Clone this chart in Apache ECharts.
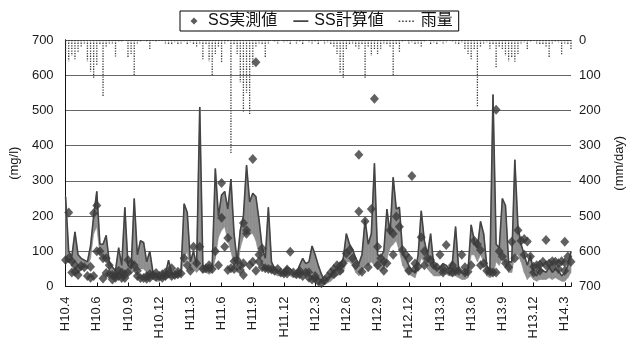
<!DOCTYPE html>
<html><head><meta charset="utf-8">
<script src="https://cdn.jsdelivr.net/npm/echarts@6/dist/echarts.min.js"></script>
<style>html,body{margin:0;padding:0;background:#fff}#c{width:634px;height:343px}</style>
</head><body><div id="c"></div>
<script>
const tickLabels = ['H10.4','H10.6','H10.9','H10.12','H11.3','H11.6','H11.9','H11.12','H12.3','H12.6','H12.9','H12.12','H13.3','H13.6','H13.9','H13.12','H14.3'];
const seriesNames = ['SS実測値','SS計算値','雨量'];

// SS calculated (mg/l): upper edge of the plotted band, index 0..162 (~9 days each)
const ssCalc = [255,100,85,155,90,80,75,70,115,200,
 270,120,120,145,70,55,45,110,60,225,
 60,50,250,90,130,125,70,100,40,30,
 25,30,35,75,40,35,40,45,235,210,
 70,100,60,510,60,55,50,60,335,200,
 260,270,220,305,150,70,160,200,345,240,
 265,255,190,110,80,225,70,50,45,40,
 45,55,50,40,35,60,80,65,70,115,
 90,60,35,15,25,30,45,50,60,80,
 150,120,105,80,65,90,190,120,150,350,
 90,85,100,220,150,310,220,225,100,80,
 60,45,40,90,215,130,90,150,60,50,
 55,65,60,50,70,170,50,40,35,45,
 175,130,110,185,150,60,45,545,120,110,
 250,230,70,70,360,170,120,90,60,90,
 40,30,50,45,40,55,40,50,45,30,
 40,60,100];

// SS calculated: lower edge of the daily-oscillation band
const ssCalcLow = [70,70,65,70,60,55,55,50,80,150,
 170,90,80,80,45,35,30,35,35,40,
 40,35,45,45,50,50,40,30,20,15,
 15,20,20,25,25,25,25,30,80,100,
 45,50,40,50,40,40,35,40,80,140,
 160,170,130,100,60,40,110,140,150,150,
 150,130,90,60,45,45,40,35,30,30,
 30,35,30,25,25,35,40,35,35,40,
 30,20,10,5,10,15,25,30,35,40,
 70,70,60,40,30,40,60,60,70,60,
 50,45,50,80,110,120,130,100,60,45,
 35,30,25,50,80,70,50,40,30,30,
 30,35,35,30,30,30,25,20,20,25,
 90,90,70,90,70,30,25,30,70,60,
 80,60,40,40,90,90,70,40,20,30,
 20,15,20,20,20,25,20,25,20,15,
 15,25,40];

// SS measured (index, mg/l)
const ssMeasured = [[0,75],[1,210],[1,80],[2,72],[2,40],[3,42],[3,60],[4,33],[4,50],[5,58],[6,55],[7,30],[8,25],[8,56],[9,208],[9,30],[10,230],[10,100],[11,100],[12,23],[12,80],[13,80],[13,38],[14,35],[14,60],[15,33],[15,20],[16,33],[16,25],[17,30],[17,45],[18,24],[18,40],[19,24],[19,35],[20,75],[20,40],[21,66],[22,60],[23,30],[23,45],[24,24],[25,24],[26,30],[26,22],[27,25],[27,35],[28,33],[29,28],[29,38],[30,30],[31,35],[31,25],[32,30],[32,40],[33,37],[34,52],[34,30],[35,33],[36,35],[36,42],[37,37],[38,80],[39,60],[40,45],[41,113],[42,66],[43,113],[44,50],[45,52],[46,52],[46,60],[47,50],[48,100],[49,60],[50,294],[50,195],[51,113],[52,138],[52,47],[53,52],[54,72],[54,50],[55,75],[56,47],[56,60],[57,33],[57,66],[57,180],[58,160],[58,150],[59,60],[60,362],[60,70],[61,637],[61,45],[62,90],[62,71],[63,108],[63,55],[64,52],[65,50],[66,48],[67,45],[68,50],[69,40],[70,37],[71,37],[71,48],[72,99],[73,40],[74,35],[75,45],[75,35],[76,30],[77,40],[78,25],[78,40],[79,20],[80,30],[80,22],[81,15],[82,9],[83,18],[84,28],[85,40],[86,50],[86,35],[87,60],[88,45],[88,58],[89,66],[90,94],[91,104],[92,80],[93,60],[94,213],[94,374],[95,42],[96,185],[97,55],[98,220],[99,533],[100,113],[100,60],[101,80],[102,70],[102,45],[103,66],[104,160],[105,150],[105,90],[106,199],[107,170],[108,104],[109,90],[110,80],[110,45],[111,314],[112,50],[112,65],[113,56],[114,140],[115,100],[115,60],[116,80],[117,75],[118,61],[119,55],[120,90],[121,50],[121,40],[122,118],[123,45],[124,40],[124,60],[125,45],[126,45],[127,90],[128,40],[128,55],[129,42],[130,60],[131,130],[132,120],[133,104],[133,60],[134,66],[135,45],[136,42],[137,40],[138,502],[138,40],[139,100],[140,85],[141,66],[142,55],[143,127],[144,80],[145,160],[146,130],[147,135],[147,90],[148,128],[149,85],[150,56],[150,40],[151,60],[152,62],[152,45],[153,70],[154,132],[154,60],[155,65],[156,72],[156,55],[157,70],[158,66],[158,50],[159,72],[160,127],[160,68],[160,45],[161,85],[162,70]];

// Rainfall (mm/day), index 0..162
const rainfall = [40,60,45,55,35,20,10,60,90,110,
 70,15,160,20,10,10,47,5,5,0,
 52,40,100,10,5,0,5,28,0,5,
 0,3,10,15,12,8,15,10,5,12,
 8,15,20,10,55,15,60,100,40,20,
 65,10,5,324,15,40,120,205,150,210,
 76,20,10,15,50,10,0,5,10,0,
 8,5,15,0,10,5,12,0,8,10,
 5,15,0,10,8,12,20,40,95,108,
 30,15,10,20,25,15,108,20,45,30,
 40,25,10,15,20,100,15,35,5,0,
 10,8,15,10,20,5,0,12,8,15,
 5,10,8,0,5,10,15,8,30,40,
 55,30,190,20,10,8,25,15,80,20,
 30,45,60,50,62,40,10,8,28,5,
 0,10,15,12,20,50,10,5,8,43,
 10,15,30];

const FONT = "'Liberation Sans','Noto Sans CJK JP',sans-serif";
const chart = echarts.init(document.getElementById('c'), null, {renderer:'canvas'});
chart.setOption({
  animation: false,
  backgroundColor: '#fff',
  textStyle: {fontFamily: FONT},
  grid: {left: 65.5, right: 62.3, top: 40, bottom: 56.5, containLabel: false},
  legend: {
    left: 180, top: 11,
    borderColor: '#000', borderWidth: 1, backgroundColor: '#fff',
    padding: [2, 6, 2, 5], itemGap: 14, itemWidth: 18, itemHeight: 9,
    textStyle: {fontSize: 16, color: '#111', fontFamily: FONT},
    data: [
      {name: seriesNames[0], icon: 'path://M0,0L0.01,0M18,9L17.99,9M9,1L12.5,4.5L9,8L5.5,4.5Z', itemStyle: {color: '#333'}},
      {name: seriesNames[1], icon: 'path://M0,0L0.01,0M18,9L17.99,9M2,3.7h15v1.8h-15z', itemStyle: {color: '#444'}},
      {name: seriesNames[2], icon: 'path://M0,0L0.01,0M18,9L17.99,9M1,4h1.6v1.6h-1.6zM4.4,4h1.6v1.6h-1.6zM7.8,4h1.6v1.6h-1.6zM11.2,4h1.6v1.6h-1.6zM14.6,4h1.6v1.6h-1.6z', itemStyle: {color: '#444'}}
    ]
  },
  xAxis: [{
    type: 'value', min: 0, max: 162, interval: 10,
    axisLine: {show: true, lineStyle: {color: '#111', width: 1}},
    axisTick: {show: true, inside: true, length: 4, lineStyle: {color: '#111'}},
    splitLine: {show: false},
    axisLabel: {rotate: 90, margin: 10, fontSize: 13, color: '#1a1a1a', fontFamily: FONT,
      formatter: v => (v % 10 === 0 && tickLabels[v / 10]) ? tickLabels[v / 10] : ''}
  }, {
    type: 'value', position: 'top', min: 0, max: 162,
    axisLine: {show: true, lineStyle: {color: '#444', width: 1, type: [1, 2]}},
    axisTick: {show: false}, axisLabel: {show: false}, splitLine: {show: false}
  }],
  yAxis: [{
    type: 'value', min: 0, max: 700, interval: 100, position: 'left',
    name: '(mg/l)', nameLocation: 'middle', nameGap: 37, nameRotate: 90,
    nameTextStyle: {fontSize: 13, color: '#1a1a1a', fontFamily: FONT},
    axisLine: {show: true, lineStyle: {color: '#111'}},
    axisTick: {show: false},
    axisLabel: {fontSize: 13, color: '#1a1a1a', margin: 12, fontFamily: FONT},
    splitLine: {show: true, lineStyle: {color: '#666', width: 1.2}}
  }, {
    type: 'value', min: 0, max: 700, interval: 100, inverse: true, position: 'right',
    name: '(mm/day)', nameLocation: 'middle', nameGap: 42, nameRotate: 90,
    nameTextStyle: {fontSize: 13, color: '#1a1a1a', fontFamily: FONT},
    axisLine: {show: true, lineStyle: {color: '#111'}},
    axisTick: {show: false},
    axisLabel: {fontSize: 13, color: '#1a1a1a', margin: 8, fontFamily: FONT},
    splitLine: {show: false}
  }],
  series: [{
    name: seriesNames[0], type: 'scatter', xAxisIndex: 0, yAxisIndex: 0,
    symbol: 'diamond', symbolSize: [9, 10], z: 5,
    itemStyle: {color: '#3a3a3a'},
    data: ssMeasured
  }, {
    name: seriesNames[1], type: 'custom', xAxisIndex: 0, yAxisIndex: 0, z: 3,
    silent: true,
    renderItem: (params, api) => {
      const i = api.value(0);
      if (i >= ssCalc.length - 1) return null;
      const a = api.coord([i, ssCalcLow[i]]), b = api.coord([i, ssCalc[i]]);
      const c = api.coord([i + 1, ssCalc[i + 1]]), d = api.coord([i + 1, ssCalcLow[i + 1]]);
      return {type: 'polygon', shape: {points: [a, b, c, d]},
        style: {fill: '#8e8e8e', stroke: '#8e8e8e', lineWidth: 0.6}};
    },
    data: ssCalc.map((v, i) => [i, v])
  }, {
    name: seriesNames[1], type: 'line', xAxisIndex: 0, yAxisIndex: 0,
    showSymbol: false, symbol: 'none', z: 4,
    lineStyle: {color: '#444', width: 1.6},
    data: ssCalc.map((v, i) => [i, v])
  }, {
    name: seriesNames[2], type: 'custom', xAxisIndex: 0, yAxisIndex: 1, z: 2,
    itemStyle: {color: '#444'},
    encode: {x: 0, y: 1},
    renderItem: (params, api) => {
      const i = api.value(0), v = api.value(1);
      if (!v) return null;
      const p0 = api.coord([i, 0]), p1 = api.coord([i, v]);
      return {type: 'line', shape: {x1: p0[0], y1: p0[1], x2: p1[0], y2: p1[1]},
        style: {stroke: '#3c3c3c', lineWidth: 1.3, lineDash: [1.3, 1.3]}};
    },
    data: rainfall.map((v, i) => [i, v])
  }]
});
</script>
</body></html>
